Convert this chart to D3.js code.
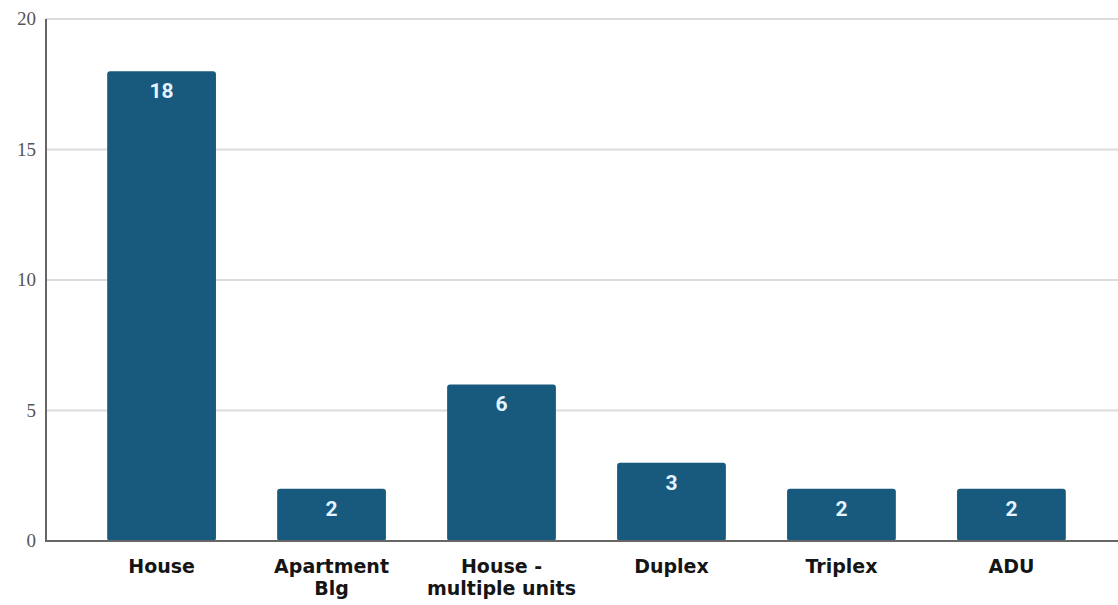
<!DOCTYPE html>
<html>
<head>
<meta charset="utf-8">
<script src="https://cdn.jsdelivr.net/npm/d3@7"></script>
<style>
  body { margin: 0; background: #fff; }
  svg { display: block; }
</style>
</head>
<body>
<svg id="chart"></svg>
<script>
const categories = [["House"], ["Apartment", "Blg"], ["House -", "multiple units"], ["Duplex"], ["Triplex"], ["ADU"]];
const values = [18, 2, 6, 3, 2, 2];
const yTicks = [0, 5, 10, 15, 20];

const width = 1118, height = 605;
const x0 = 46, yTop = 19, yBottom = 541;

const svg = d3.select("#chart").attr("width", width).attr("height", height);

const x = d3.scaleBand()
    .domain(d3.range(values.length))
    .range([x0, 1127])
    .paddingInner(0.36)
    .paddingOuter(0.36);

const y = d3.scaleLinear().domain([0, 20]).range([yBottom, yTop]);

// gridlines
svg.selectAll(".grid")
    .data(yTicks.filter(d => d > 0))
    .enter().append("line")
    .attr("x1", x0).attr("x2", width)
    .attr("y1", d => y(d)).attr("y2", d => y(d))
    .attr("stroke", "#dcdcdc").attr("stroke-width", 2);

// y tick labels
svg.selectAll(".ylab")
    .data(yTicks)
    .enter().append("text")
    .attr("x", 36)
    .attr("y", d => y(d) + 6)
    .attr("text-anchor", "end")
    .attr("font-family", "'Liberation Serif', 'DejaVu Serif', serif")
    .attr("font-size", 19)
    .attr("fill", "#555")
    .text(d => d);

// bars
svg.selectAll(".bar")
    .data(values)
    .enter().append("rect")
    .attr("x", (d, i) => x(i))
    .attr("y", d => y(d))
    .attr("width", x.bandwidth())
    .attr("height", d => yBottom - y(d))
    .attr("rx", 3)
    .attr("fill", "#185a7d");

// value labels
svg.selectAll(".val")
    .data(values)
    .enter().append("text")
    .attr("x", (d, i) => x(i) + x.bandwidth() / 2)
    .attr("y", d => y(d) + 27)
    .attr("text-anchor", "middle")
    .attr("font-family", "Roboto, 'Liberation Sans', sans-serif")
    .attr("font-weight", "bold")
    .attr("font-size", 21)
    .attr("fill", "#e3f3ff")
    .text(d => d);

// axes lines
svg.append("line")
    .attr("x1", x0).attr("x2", x0)
    .attr("y1", yTop).attr("y2", yBottom + 1)
    .attr("stroke", "#666").attr("stroke-width", 2);
svg.append("line")
    .attr("x1", x0 - 1).attr("x2", width)
    .attr("y1", yBottom).attr("y2", yBottom)
    .attr("stroke", "#666").attr("stroke-width", 2);

// category labels
const cat = svg.selectAll(".cat")
    .data(categories)
    .enter().append("text")
    .attr("x", (d, i) => x(i) + x.bandwidth() / 2)
    .attr("y", 573)
    .attr("text-anchor", "middle")
    .attr("font-family", "'DejaVu Sans', Verdana, sans-serif")
    .attr("font-weight", "bold")
    .attr("font-size", 19)
    .attr("fill", "#151515");

cat.selectAll("tspan")
    .data(d => d)
    .enter().append("tspan")
    .attr("x", function () { return d3.select(this.parentNode).attr("x"); })
    .attr("dy", (d, i) => i === 0 ? 0 : 22)
    .text(d => d);
</script>
</body>
</html>
